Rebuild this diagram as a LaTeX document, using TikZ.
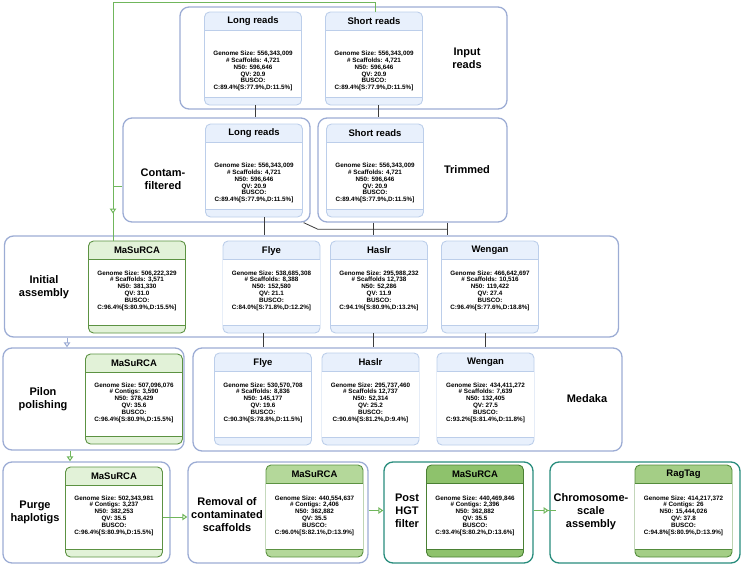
\documentclass[tikz,border=0pt]{standalone}
\usepackage{fontspec}
\setmainfont{Liberation Sans}
\usepackage{tikz}
\usetikzlibrary{arrows.meta,decorations.markings}

\definecolor{grpblue}{RGB}{156,172,212}
\definecolor{grpteal}{RGB}{40,140,124}
\definecolor{blueedge}{RGB}{188,206,234}
\definecolor{bluehead}{RGB}{232,240,252}
\definecolor{lgreenedge}{RGB}{92,146,66}
\definecolor{lgreenhead}{RGB}{226,242,216}
\definecolor{mgreenedge}{RGB}{92,146,66}
\definecolor{mgreenhead}{RGB}{180,216,154}
\definecolor{dgreenedge}{RGB}{74,128,52}
\definecolor{dgreenhead}{RGB}{142,194,108}
\definecolor{rgreenedge}{RGB}{84,140,60}
\definecolor{rgreenhead}{RGB}{164,206,134}
\definecolor{hybgreen}{RGB}{112,182,92}
\definecolor{linkgray}{RGB}{60,60,60}

% card: name, centre, height, colours, title, stats, text offset
\newcommand{\statcard}[7]{%
  \node[card, draw=#4edge, fill=#4head, minimum height=#3pt] (#1) at #2 {};
  \fill[white] ([shift={(0.5pt,-19pt)}]#1.north west) rectangle ([shift={(-0.5pt,8.5pt)}]#1.south east);
  \draw[#4edge, line width=0.5pt] ([yshift=-19pt]#1.north west) -- ([yshift=-19pt]#1.north east)
    ([yshift=8.5pt]#1.south west) -- ([yshift=8.5pt]#1.south east);
  \node[cardtitle] (#1t) at ([yshift=-10pt]#1.north) {#5};
  \node[cardtext] (#1s) at ([yshift=-#7pt]#1.north) {#6};
}

\begin{document}
\begin{tikzpicture}[x=1pt,y=-1pt,
    grp/.style={draw=grpblue, line width=1.3pt, rounded corners=9pt, inner sep=0pt},
    card/.style={line width=0.9pt, rounded corners=5pt, minimum width=97pt, inner sep=0pt},
    cardtitle/.style={font=\bfseries\fontsize{9.5}{11}\selectfont, inner sep=0pt},
    cardtext/.style={font=\bfseries\fontsize{6.3}{6.8}\selectfont, align=center, inner sep=0pt},
    stage/.style={font=\bfseries\fontsize{11}{13}\selectfont, align=center, inner sep=0pt},
    link/.style={draw=linkgray, line width=0.8pt},
    hyb/.style={draw=hybgreen, line width=1pt},
    tip/.style={-{Triangle[open, length=5pt, width=6.5pt, fill=white]}},
    midtip/.style={postaction={decorate}, decoration={markings,
      mark=at position #1 with {\arrow{Triangle[open, length=5pt, width=6.5pt, fill=white]}}}}]
  \useasboundingbox (0,0) rectangle (742,565);

  % Stage boxes
  \node[grp, minimum width=327pt, minimum height=102pt] (gin) at (343.5,58) {};
  \node[grp, minimum width=187pt, minimum height=104pt] (gcf) at (216.5,170) {};
  \node[grp, minimum width=189pt, minimum height=104pt] (gtr) at (412.5,170) {};
  \node[grp, minimum width=614pt, minimum height=101pt] (gia) at (311.5,286.5) {};
  \node[grp, minimum width=181pt, minimum height=102pt] (gpp) at (93.5,399) {};
  \node[grp, minimum width=429pt, minimum height=103pt] (gmd) at (407.5,399.5) {};
  \node[grp, minimum width=167pt, minimum height=101pt] (gph) at (86.5,512.5) {};
  \node[grp, minimum width=180pt, minimum height=101pt] (grm) at (278,512.5) {};
  \node[grp, draw=grpteal, minimum width=149pt, minimum height=101pt] (ghg) at (458.5,512.5) {};
  \node[grp, draw=grpteal, minimum width=190pt, minimum height=101pt] (gcs) at (645,512.5) {};

  % Stage labels
  \node[stage] (lin) at (467,58.5) {Input\\reads};
  \node[stage] (lcf) at (163,179) {Contam-\\filtered};
  \node[stage] (ltr) at (467,170) {Trimmed};
  \node[stage] (lia) at (44,287.5) {Initial\\assembly};
  \node[stage] (lpp) at (43,399.5) {Pilon\\polishing};
  \node[stage] (lmd) at (587,399) {Medaka};
  \node[stage] (lph) at (35,512.5) {Purge\\haplotigs};
  \node[stage] (lrm) at (227,515) {Removal of\\contaminated\\scaffolds};
  \node[stage] (lhg) at (407,510.5) {Post\\HGT\\filter};
  \node[stage] (lcs) at (591,511.5) {Chromosome-\\scale\\assembly};

  % Reads
  \statcard{ilr}{(253,58.5)}{93}{blue}{Long reads}{Genome Size: 556,343,009\\\# Scaffolds: 4,721\\N50: 596,646\\QV: 20.9\\BUSCO:\\C:89.4\%[S:77.9\%,D:11.5\%]}{59.5}
  \statcard{isr}{(374,58.5)}{93}{blue}{Short reads}{Genome Size: 556,343,009\\\# Scaffolds: 4,721\\N50: 596,646\\QV: 20.9\\BUSCO:\\C:89.4\%[S:77.9\%,D:11.5\%]}{59.5}
  \statcard{clr}{(254,170.5)}{93}{blue}{Long reads}{Genome Size: 556,343,009\\\# Scaffolds: 4,721\\N50: 596,646\\QV: 20.9\\BUSCO:\\C:89.4\%[S:77.9\%,D:11.5\%]}{59.5}
  \statcard{tsr}{(375,170.5)}{93}{blue}{Short reads}{Genome Size: 556,343,009\\\# Scaffolds: 4,721\\N50: 596,646\\QV: 20.9\\BUSCO:\\C:89.4\%[S:77.9\%,D:11.5\%]}{59.5}

  % Initial assemblies
  \statcard{ama}{(137,287)}{92}{lgreen}{MaSuRCA}{Genome Size: 506,222,329\\\# Scaffolds: 3,571\\N50: 381,330\\QV: 31.0\\BUSCO:\\C:96.4\%[S:80.9\%,D:15.5\%]}{50}
  \statcard{afl}{(271.5,287)}{92}{blue}{Flye}{Genome Size: 538,685,308\\\# Scaffolds: 8,388\\N50: 152,580\\QV: 21.1\\BUSCO:\\C:84.0\%[S:71.8\%,D:12.2\%]}{50}
  \statcard{ahs}{(379,287)}{92}{blue}{Haslr}{Genome Size: 295,988,232\\\# Scaffolds 12,738\\N50: 52,286\\QV: 11.9\\BUSCO:\\C:94.1\%[S:80.9\%,D:13.2\%]}{50}
  \statcard{awg}{(490,287)}{92}{blue}{Wengan}{Genome Size: 466,642,697\\\# Scaffolds: 10,516\\N50: 119,422\\QV: 27.4\\BUSCO:\\C:96.4\%[S:77.6\%,D:18.8\%]}{50}

  % Polishing
  \statcard{pma}{(134,399)}{90}{lgreen}{MaSuRCA}{Genome Size: 507,096,076\\\# Contigs: 3,590\\N50: 378,429\\QV: 35.6\\BUSCO:\\C:96.4\%[S:80.9\%,D:15.5\%]}{49}
  \statcard{mfl}{(263,399)}{92}{blue}{Flye}{Genome Size: 530,570,708\\\# Scaffolds: 8,836\\N50: 145,177\\QV: 19.6\\BUSCO:\\C:90.3\%[S:78.8\%,D:11.5\%]}{50}
  \statcard{mhs}{(370.5,399)}{92}{blue}{Haslr}{Genome Size: 295,737,460\\\# Scaffolds 12,737\\N50: 52,314\\QV: 25.2\\BUSCO:\\C:90.6\%[S:81.2\%,D:9.4\%]}{50}
  \statcard{mwg}{(485.5,399)}{92}{blue}{Wengan}{Genome Size: 434,411,272\\\# Scaffolds: 7,639\\N50: 132,405\\QV: 27.5\\BUSCO:\\C:93.2\%[S:81.4\%,D:11.8\%]}{50}

  % Curation
  \statcard{hma}{(114,512)}{90}{lgreen}{MaSuRCA}{Genome Size: 502,343,981\\\# Contigs: 3,237\\N50: 382,253\\QV: 35.5\\BUSCO:\\C:96.4\%[S:80.9\%,D:15.5\%]}{49}
  \statcard{rma}{(314.5,511)}{92}{mgreen}{MaSuRCA}{Genome Size: 440,554,637\\\# Contigs: 2,406\\N50: 362,882\\QV: 35.5\\BUSCO:\\C:96.0\%[S:82.1\%,D:13.9\%]}{51}
  \statcard{fma}{(475,511)}{92}{dgreen}{MaSuRCA}{Genome Size: 440,469,846\\\# Contigs: 2,396\\N50: 362,882\\QV: 35.5\\BUSCO:\\C:93.4\%[S:80.2\%,D:13.6\%]}{51}
  \statcard{rtg}{(683.5,511)}{92}{rgreen}{RagTag}{Genome Size: 414,217,372\\\# Contigs: 26\\N50: 15,444,026\\QV: 37.8\\BUSCO:\\C:94.8\%[S:80.9\%,D:13.9\%]}{51}

  % Read flow
  \draw[link] ([xshift=2pt]ilr.south) -- ([xshift=2pt]ilr.south |- gcf.north);
  \draw[link] ([xshift=4pt]isr.south) -- ([xshift=4pt]isr.south |- gtr.north);
  \draw[link] ([xshift=10pt]clr.south) -- ([xshift=10pt]clr.south |- gia.north);
  \coordinate (tw) at ([xshift=-60pt]gtr.south east);
  \draw[link] (tw) -- (tw |- gia.north);
  \draw[link] ([xshift=-6pt]ahs.north |- gtr.south) -- ([xshift=-6pt]ahs.north |- gia.north);
  \draw[link] ([xshift=-7pt]gcf.south east) -- ++(14,6.5) coordinate (jl) -- (jl -| tw);

  % Hybrid input of MaSuRCA
  \coordinate (gtop) at (113,2);
  \draw[hyb, midtip=-27pt] ([xshift=1pt]isr.north) |- (gtop) -- ([xshift=-24pt]ama.north);
  \draw[hyb] (gtop |- gcf.west) ++(0,16) -- ([yshift=-16pt]gcf.west);

  % Medaka polishing
  \draw[link] (mfl.north |- afl.south) -- (mfl.north |- gmd.north);
  \draw[link] ([xshift=-6pt]ahs.south) -- ([xshift=-6pt]ahs.south |- gmd.north);
  \draw[link] (mwg.north |- awg.south) -- (mwg.north |- gmd.north);

  % MaSuRCA curation steps
  \draw[draw=grpblue, line width=1pt, tip] ([xshift=-26.5pt]gpp.north |- gia.south) -- ([xshift=-26.5pt]gpp.north);
  \draw[hyb, tip] ([xshift=-16.5pt]gph.north |- gpp.south) -- ([xshift=-16.5pt]gph.north);
  \draw[hyb, tip] ([yshift=-5pt]hma.east) -- ([yshift=-5pt]hma.east -| grm.west);
  \draw[hyb, tip] ([yshift=2pt]grm.east) -- ([yshift=2pt]ghg.west);
  \draw[hyb, midtip=15pt] ([yshift=2pt]ghg.east) -- ([shift={(7pt,2pt)}]gcs.west);
\end{tikzpicture}
\end{document}
